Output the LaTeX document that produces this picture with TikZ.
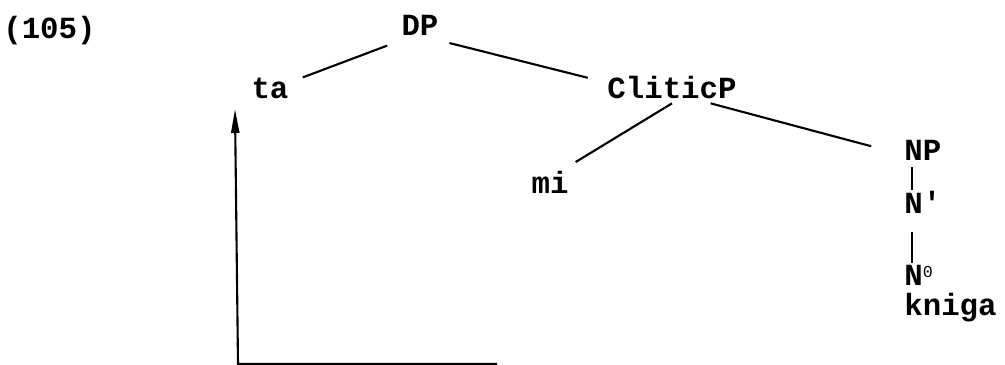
\documentclass[tikz,border=0pt]{standalone}
\usepackage{fontspec}
\setmonofont{Liberation Mono}
\usetikzlibrary{arrows.meta}

\begin{document}
\begin{tikzpicture}[x=0.02cm,y=-0.02cm,
  lbl/.style={inner sep=0pt,text height=0.3cm,text depth=0.1cm,font=\ttfamily\bfseries\fontsize{17.5}{20}\selectfont},
  branch/.style={line width=1.2pt}]
\useasboundingbox (0,0) rectangle (1005,365);
\node[lbl,anchor=base west] (ex) at (3,38) {(105)};
\node[lbl,anchor=base] (DP) at (420,35) {DP};
\node[lbl,anchor=base] (ta) at (270,98) {ta};
\node[lbl,anchor=base] (CliticP) at (672,98) {CliticP};
\node[lbl,anchor=base] (mi) at (550,193) {mi};
\node[lbl,anchor=base west] (NP) at (904,160) {NP};
\node[lbl,anchor=base west] (Nbar) at (904,213) {N\textquotesingle};
\node[lbl,anchor=base west] (Nzero) at (904,285) {N\raisebox{4pt}{\mdseries\fontsize{9.5}{9.5}\selectfont 0}};
\node[lbl,anchor=base west] (kniga) at (904,315) {kniga};
\draw[branch,shorten <=0.3cm,shorten >=0.3cm] (DP.south west) -- (ta.north east);
\draw[branch,shorten <=0.22cm,shorten >=0.4cm] (DP.south east) -- (CliticP.north west);
\draw[branch,shorten >=0.6cm] (CliticP.south) -- (mi.north);
\draw[branch,shorten >=0.68cm] (CliticP.-15) -- (NP.west);
\draw[branch,shorten <=0.04cm,shorten >=0.16cm] ([xshift=0.16cm]NP.south west) -- ([xshift=0.16cm]Nbar.north west);
\draw[branch,shorten <=0.28cm,shorten >=0.14cm] ([xshift=0.16cm]Nbar.south west) -- ([xshift=0.16cm]Nzero.north west);
\coordinate (corner) at (238,364);
\coordinate (tail) at (497,364);
\coordinate (tip) at (235,109);
\draw[branch,-{Triangle[length=0.48cm,width=0.16cm]}] (tail) -- (corner) -- (tip);
\end{tikzpicture}
\end{document}
